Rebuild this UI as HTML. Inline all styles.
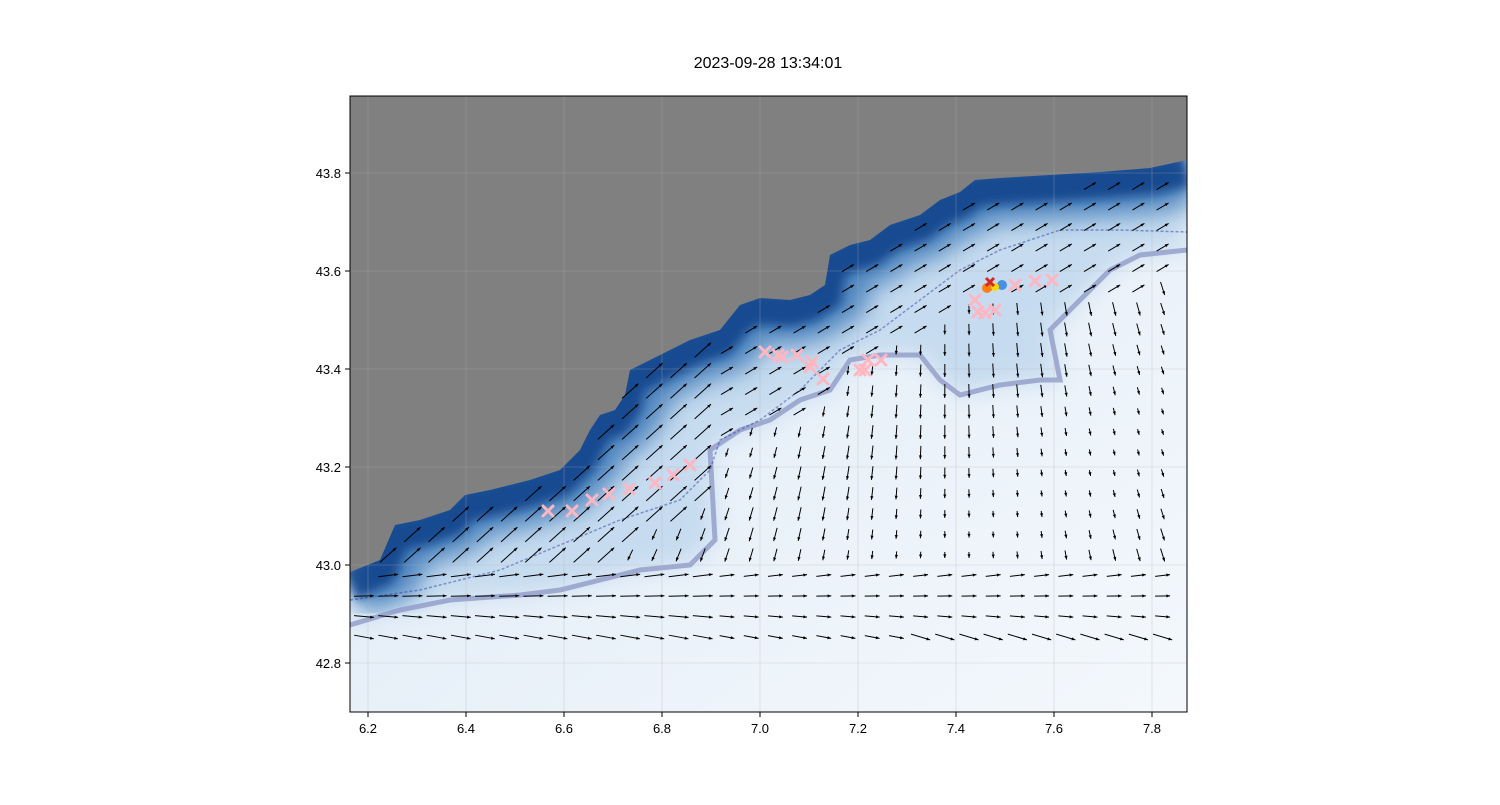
<!DOCTYPE html>
<html><head><meta charset="utf-8"><style>
body{margin:0;background:#fff;width:1500px;height:800px;overflow:hidden;font-family:"Liberation Sans",sans-serif}
</style></head><body>
<svg id="s" width="1500" height="800" xmlns="http://www.w3.org/2000/svg" font-family="Liberation Sans, sans-serif">
<defs>
<linearGradient id="sea" x1="0" y1="0" x2="1" y2="1">
<stop offset="0" stop-color="#dbe8f5"/><stop offset="1" stop-color="#f4f8fc"/></linearGradient>
<clipPath id="ax"><rect x="350" y="96" width="837" height="616"/></clipPath>
<filter id="bl"><feGaussianBlur stdDeviation="12"/></filter>
<filter id="bl2"><feGaussianBlur stdDeviation="5"/></filter>
</defs>
<text x="768" y="68" font-size="16" text-anchor="middle">2023-09-28 13:34:01</text>
<g clip-path="url(#ax)">
<rect x="350" y="96" width="837" height="616" fill="url(#sea)"/>
<polygon fill="#c6dbef" filter="url(#bl)" points="350,572 380,560 395,525 420,520 450,510 465,495 490,490 530,480 560,470 580,450 590,430 600,415 615,410 625,395 630,370 660,355 690,340 720,330 740,305 760,298 790,300 810,295 825,285 830,255 850,245 870,240 890,225 920,215 940,200 960,192 975,180 1000,178 1050,175 1100,172 1150,168 1187,160 1187,250 1140,255 1110,270 1080,300 1050,330 1060,380 1000,385 960,395 940,380 920,355 880,355 850,360 830,390 800,400 770,420 740,430 710,450 715,540 690,565 640,570 600,580 560,590 520,595 450,600 400,610 350,625"/>
<polyline fill="none" stroke="#2b6cb0" stroke-width="90" opacity=".75" filter="url(#bl)" points="350,572 380,560 395,525 420,520 450,510 465,495 490,490 530,480 560,470 580,450 590,430 600,415 615,410 625,395 630,370 660,355 690,340 720,330 740,305 760,298 790,300 810,295 825,285 830,255 850,245 870,240 890,225 920,215 940,200 960,192 975,180 1000,178 1050,175 1100,172 1150,168 1187,160"/>
<polyline fill="none" stroke="#0b3f88" stroke-width="34" opacity=".85" filter="url(#bl2)" points="350,585 380,570 395,535 420,530 450,520 465,505 490,500 530,490 560,480 580,460 590,440 600,425 615,420 625,405 630,380 660,365 690,350 720,340 740,315 760,308 790,310 810,305 825,295 830,265 850,255 870,250 890,235 920,225 940,210 960,202 975,190 1000,188 1050,185 1100,182 1150,178 1187,170"/>
<polyline fill="none" stroke="#8c96c6" stroke-width="5" opacity=".75" points="350,625 400,610 450,600 520,595 560,590 600,580 640,570 690,565 715,540 710,450 740,430 770,420 800,400 830,390 850,360 880,355 920,355 940,380 960,395 1000,385 1040,380 1060,380 1050,330 1080,300 1110,270 1140,255 1187,250"/>
<polyline fill="none" stroke="#2030a0" stroke-width="1.5" opacity=".45" stroke-dasharray="3 2" points="350,600 420,590 500,570 560,545 620,520 680,500 710,470 720,440 760,420 800,390 840,350 880,330 920,300 960,270 1000,250 1060,230 1120,230 1187,232"/>
<polygon fill="#808080" points="350,96 1187,96 1187,160 1150,168 1100,172 1050,175 1000,178 975,180 960,192 940,200 920,215 890,225 870,240 850,245 830,255 825,285 810,295 790,300 760,298 740,305 720,330 690,340 660,355 630,370 625,395 615,410 600,415 590,430 580,450 560,470 530,480 490,490 465,495 450,510 420,520 395,525 380,560 350,572"/>
<g id="grid" stroke="#b0b0b0" stroke-width="0.6" opacity=".5"></g>
<g id="arr" stroke="#000" stroke-width="1" fill="#000"></g>
<g id="marks" stroke="#ffb6c1" stroke-width="3" stroke-linecap="round"></g>
<circle cx="987" cy="288" r="5" fill="#ff7f0e"/>
<circle cx="1002" cy="285" r="5" fill="#4a90e2"/>
<circle cx="995" cy="287" r="4" fill="#ffd700"/>
<path d="M986,278 L994,286 M994,278 L986,286" stroke="#d62728" stroke-width="3"/>
</g>
<rect x="350" y="96" width="837" height="616" fill="none" stroke="#000" stroke-width="1"/>
<g id="ticks" font-size="13" fill="#000"></g>
</svg>
<script>
const NS="http://www.w3.org/2000/svg";
function el(p,t,a){const e=document.createElementNS(NS,t);for(const k in a)e.setAttribute(k,a[k]);p.appendChild(e);return e}
const tk=document.getElementById('ticks'),gr=document.getElementById('grid');
for(let i=0;i<9;i++){const v=6.2+i*0.2,x=368+i*98;
el(tk,'line',{x1:x,y1:712,x2:x,y2:717,stroke:'#000'});
const t=el(tk,'text',{x:x,y:733,'text-anchor':'middle'});t.textContent=v.toFixed(1);
el(gr,'line',{x1:x,y1:96,x2:x,y2:712});}
for(let i=0;i<6;i++){const v=42.8+i*0.2,y=663-i*98;
el(tk,'line',{x1:345,y1:y,x2:350,y2:y,stroke:'#000'});
const t=el(tk,'text',{x:341,y:y+5,'text-anchor':'end'});t.textContent=v.toFixed(1);
el(gr,'line',{x1:350,y1:y,x2:1187,y2:y});}
const coast=[[350,572],[380,560],[395,525],[420,520],[450,510],[465,495],[490,490],[530,480],[560,470],[580,450],[590,430],[600,415],[615,410],[625,395],[630,370],[660,355],[690,340],[720,330],[740,305],[760,298],[790,300],[810,295],[825,285],[830,255],[850,245],[870,240],[890,225],[920,215],[940,200],[960,192],[975,180],[1000,178],[1050,175],[1100,172],[1150,168],[1187,160]];
function cy(x){for(let i=0;i<coast.length-1;i++){const a=coast[i],b=coast[i+1];if(x>=a[0]&&x<=b[0])return a[1]+(b[1]-a[1])*(x-a[0])/(b[0]-a[0]);}return 160}
const ar=document.getElementById('arr');
for(let y=186;y<650;y+=20.5)for(let x=364;x<1180;x+=24.2){
 if(y<cy(x)+12)continue;
 let u,v;
 const d=y-cy(x);
 let m;
 if(d<120){u=1;v=-0.6-(x<700?0.5:0);m=14}else{u=(x-950)/300*0.4;v=0.9;m=10+4*Math.sin(x*0.013+y*0.02)}
 if(x<720&&d<170){u=1;v=-0.9;m=22}
 if(y>560){u=1;v=(y-600)/200;m=(x>720?15:20)}
 if(y>620&&x>900){u=1;v=0.3;m=20}
 const n=Math.hypot(u,v);u=u/n*m;v=v/n*m;
 const x2=x+u/2,y2=y+v/2,x1=x-u/2,y1=y-v/2;
 el(ar,'line',{x1:x1,y1:y1,x2:x2,y2:y2});
 const a=Math.atan2(v,u),h=4;
 el(ar,'polygon',{points:`${x2},${y2} ${x2-h*Math.cos(a-0.4)},${y2-h*Math.sin(a-0.4)} ${x2-h*Math.cos(a+0.4)},${y2-h*Math.sin(a+0.4)}`,stroke:'none'});
}
const mk=document.getElementById('marks');
[[548,511],[572,511],[592,500],[609,494],[629,489],[655,483],[673,475],[690,465],[765,352],[778,355],[782,357],[797,355],[812,362],[810,367],[823,379],[860,370],[868,360],[865,370],[881,360],[975,300],[985,313],[995,310],[978,312],[1015,285],[1035,281],[1052,280]].forEach(([x,y])=>{
 el(mk,'path',{d:`M${x-5},${y-5}L${x+5},${y+5}M${x+5},${y-5}L${x-5},${y+5}`});});
</script>
</body></html>
